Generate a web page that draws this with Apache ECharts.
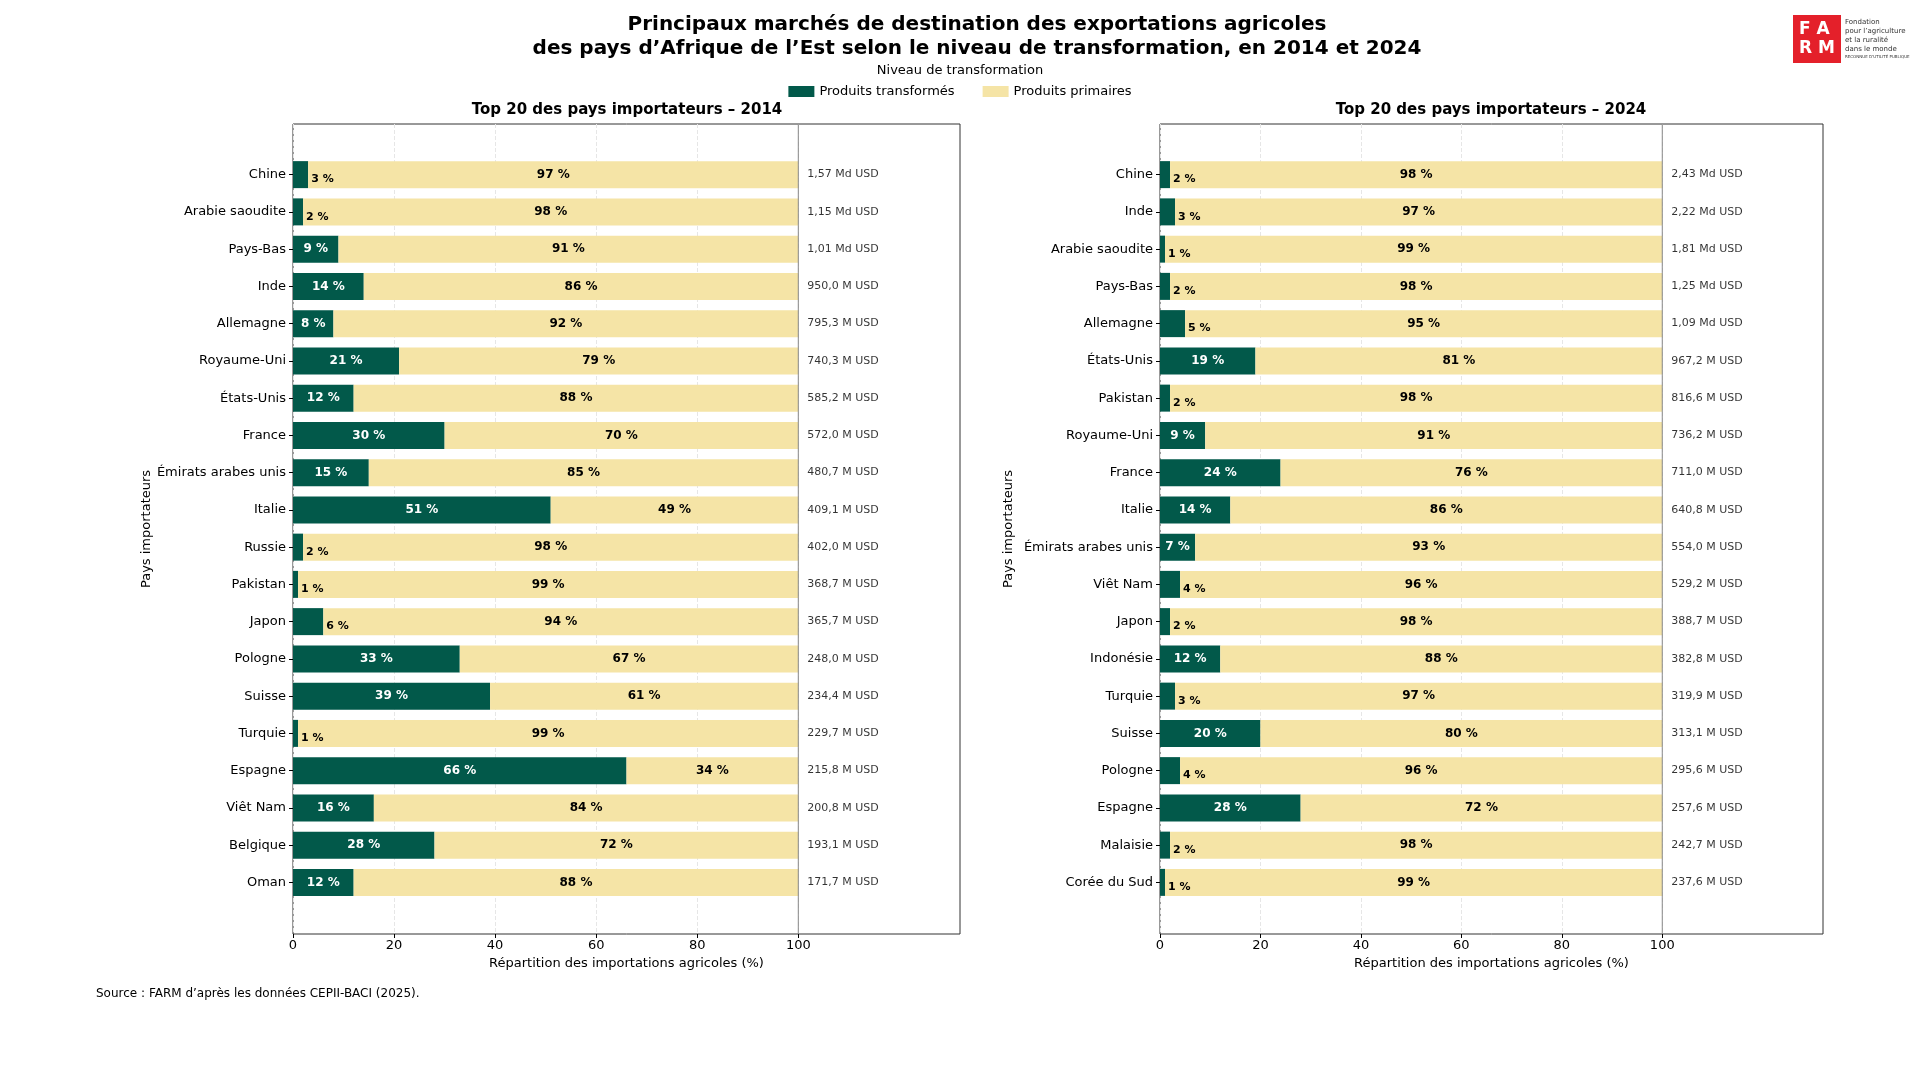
<!DOCTYPE html>
<html><head><meta charset="utf-8">
<script src="https://cdn.jsdelivr.net/npm/echarts@6/dist/echarts.min.js"></script>
<style>html,body{margin:0;padding:0;background:#fff}#c{width:1920px;height:1080px}</style>
</head><body><div id="c"></div>
<script>
const countries2014 = ["Chine","Arabie saoudite","Pays-Bas","Inde","Allemagne","Royaume-Uni","États-Unis","France","Émirats arabes unis","Italie","Russie","Pakistan","Japon","Pologne","Suisse","Turquie","Espagne","Viêt Nam","Belgique","Oman"];
const transformed2014 = [3,2,9,14,8,21,12,30,15,51,2,1,6,33,39,1,66,16,28,12];
const totals2014 = ["1,57 Md USD","1,15 Md USD","1,01 Md USD","950,0 M USD","795,3 M USD","740,3 M USD","585,2 M USD","572,0 M USD","480,7 M USD","409,1 M USD","402,0 M USD","368,7 M USD","365,7 M USD","248,0 M USD","234,4 M USD","229,7 M USD","215,8 M USD","200,8 M USD","193,1 M USD","171,7 M USD"];
const countries2024 = ["Chine","Inde","Arabie saoudite","Pays-Bas","Allemagne","États-Unis","Pakistan","Royaume-Uni","France","Italie","Émirats arabes unis","Viêt Nam","Japon","Indonésie","Turquie","Suisse","Pologne","Espagne","Malaisie","Corée du Sud"];
const transformed2024 = [2,3,1,2,5,19,2,9,24,14,7,4,2,12,3,20,4,28,2,1];
const totals2024 = ["2,43 Md USD","2,22 Md USD","1,81 Md USD","1,25 Md USD","1,09 Md USD","967,2 M USD","816,6 M USD","736,2 M USD","711,0 M USD","640,8 M USD","554,0 M USD","529,2 M USD","388,7 M USD","382,8 M USD","319,9 M USD","313,1 M USD","295,6 M USD","257,6 M USD","242,7 M USD","237,6 M USD"];
const xTicks = [0,20,40,60,80,100];

const GREEN = '#02594A', BEIGE = '#F5E4A6';
const FONT = 'DejaVu Sans';
const chart = echarts.init(document.getElementById('c'));

const panels = [
  {cats: countries2014, tr: transformed2014, tot: totals2014, left: 293, right: 960},
  {cats: countries2024, tr: transformed2024, tot: totals2024, left: 1160, right: 97}
];
const grid = [], xAxis = [], yAxis = [], series = [];
panels.forEach((p, i) => {
  const fi = i*2, bi = i*2+1;
  grid.push({left: p.left, right: p.right, top: 124, height: 810, show: true, borderColor: '#333', borderWidth: 1, backgroundColor: 'transparent'});
  grid.push({left: p.left, right: p.right, top: 156, height: 745});
  xAxis.push({gridIndex: fi, type: 'value', min: 0, max: 132, interval: 20,
    axisLabel: {fontFamily: FONT, fontSize: 13, color: '#000', margin: 5, formatter: v => xTicks.includes(v) ? String(v) : ''},
    axisTick: {show: true, length: 4, lineStyle: {color: '#000'}, customValues: xTicks},
    axisLine: {show: false},
    splitLine: {show: true, lineStyle: {color: '#e6e6e6', type: 'dashed', width: 1}},
    name: 'Répartition des importations agricoles (%)', nameLocation: 'middle', nameGap: 20,
    nameTextStyle: {fontFamily: FONT, fontSize: 13, color: '#000'}
  });
  xAxis.push({gridIndex: bi, type: 'value', min: 0, max: 132, show: false});
  yAxis.push({gridIndex: fi, type: 'value', min: 0, max: 1, axisLabel: {show: false}, axisTick: {show: false}, splitLine: {show: false}, axisLine: {show: false},
    name: 'Pays importateurs', nameLocation: 'middle', nameGap: i === 0 ? 140 : 145, nameRotate: 90,
    nameTextStyle: {fontFamily: FONT, fontSize: 13, color: '#000'}});
  yAxis.push({gridIndex: bi, type: 'category', data: p.cats, inverse: true,
    axisLabel: {fontFamily: FONT, fontSize: 13, color: '#000', margin: 7},
    axisTick: {show: true, length: 4, lineStyle: {color: '#000'}, alignWithLabel: true}, axisLine: {show: false}});
  series.push({type: 'line', xAxisIndex: fi, yAxisIndex: fi, data: [[100,0],[100,1]], symbol: 'none', silent: true,
    lineStyle: {color: '#888', width: 1}});
  series.push({name: 'Produits transformés', type: 'bar', stack: 's'+i, xAxisIndex: bi, yAxisIndex: bi, barWidth: 27,
    itemStyle: {color: GREEN},
    data: p.tr.map(v => ({value: v, label: v >= 7
      ? {show: true, position: 'inside', color: '#fff', fontWeight: 'bold', fontFamily: FONT, fontSize: 12, formatter: v + ' %'}
      : {show: true, position: 'right', distance: 3, offset: [0, 5], color: '#000', fontWeight: 'bold', fontFamily: FONT, fontSize: 11, formatter: v + ' %'}}))
  });
  series.push({name: 'Produits primaires', type: 'bar', stack: 's'+i, xAxisIndex: bi, yAxisIndex: bi, barWidth: 27,
    itemStyle: {color: BEIGE},
    label: {show: true, position: 'inside', color: '#000', fontWeight: 'bold', fontFamily: FONT, fontSize: 12, formatter: d => d.value + ' %'},
    data: p.tr.map(v => 100 - v)
  });
  series.push({type: 'scatter', xAxisIndex: bi, yAxisIndex: bi, symbolSize: 0, silent: true,
    data: p.tot.map((t, k) => [100, k]),
    label: {show: true, position: 'right', distance: 9, color: '#000', fontFamily: FONT, fontSize: 11, formatter: d => p.tot[d.dataIndex]}});
});

chart.setOption({
  animation: false,
  title: [
    {text: 'Principaux marchés de destination des exportations agricoles\ndes pays d’Afrique de l’Est selon le niveau de transformation, en 2014 et 2024',
     left: 972, textAlign: 'center', top: 8, textStyle: {fontFamily: FONT, fontSize: 20, fontWeight: 'bold', color: '#000', lineHeight: 24}},
    {text: 'Top 20 des pays importateurs – 2014', left: 622, textAlign: 'center', top: 98, textStyle: {fontFamily: FONT, fontSize: 15, fontWeight: 'bold', color: '#000'}},
    {text: 'Top 20 des pays importateurs – 2024', left: 1486, textAlign: 'center', top: 98, textStyle: {fontFamily: FONT, fontSize: 15, fontWeight: 'bold', color: '#000'}}
  ],
  legend: {data: ['Produits transformés', 'Produits primaires'], left: 'center', top: 80, itemWidth: 26, itemHeight: 11, itemGap: 28, icon: 'rect',
    textStyle: {fontFamily: FONT, fontSize: 13, color: '#000'}},
  grid, xAxis, yAxis, series,
  graphic: [
    {type: 'text', left: 'center', top: 64, style: {text: 'Niveau de transformation', fontFamily: FONT, fontSize: 13, fill: '#000'}},
    {type: 'text', left: 96, top: 988, style: {text: 'Source : FARM d’après les données CEPII-BACI (2025).', fontFamily: FONT, fontSize: 12, fill: '#000'}},
    {type: 'rect', shape: {x: 1793, y: 15, width: 48, height: 48}, style: {fill: '#E4202A'}},
    {type: 'text', x: 1799, y: 20, style: {text: 'F A\nR M', fontFamily: FONT, fontSize: 17, fontWeight: 'bold', fill: '#fff', lineHeight: 19}},
    {type: 'text', x: 1845, y: 18, style: {text: 'Fondation\npour l’agriculture\net la ruralité\ndans le monde', fontFamily: FONT, fontSize: 7, fill: '#333', lineHeight: 9}},
    {type: 'text', x: 1845, y: 55, style: {text: 'RECONNUE D’UTILITÉ PUBLIQUE', fontFamily: FONT, fontSize: 4, fill: '#333'}}
  ]
});
</script></body></html>
